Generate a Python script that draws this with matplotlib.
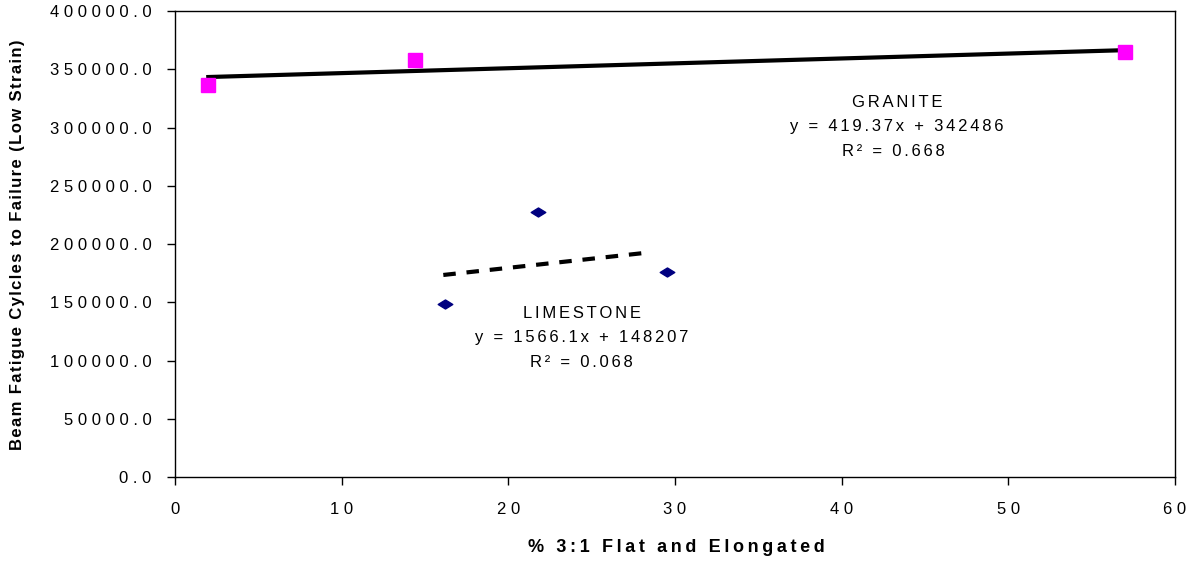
import matplotlib
matplotlib.use("Agg")
import matplotlib.pyplot as plt
import numpy as np
from matplotlib.path import Path

plt.rcParams['font.family'] = ['Liberation Sans', 'DejaVu Sans']

# Data
granite_x = [2.0, 14.4, 57.0]
granite_y = [336500, 358000, 364800]
limestone_x = [16.2, 21.8, 29.5]
limestone_y = [148500, 227500, 176000]

granite_slope, granite_int = 419.37, 342486
lime_slope, lime_int = 1566.1, 148207
granite_fit_x = [2.0, 57.0]
lime_fit_x = [16.1, 28.5]

x_ticks = [0, 10, 20, 30, 40, 50, 60]
y_ticks = [0, 50000, 100000, 150000, 200000, 250000, 300000, 350000, 400000]

x_label = "% 3:1 Flat and Elongated"
y_label = "Beam Fatigue Cylcles to Failure (Low Strain)"


def spaced(s, sp):
    return sp.join(list(s))


fig = plt.figure(figsize=(11.95, 5.61), dpi=100)
ax = fig.add_axes([0.1464, 0.1497, 0.8369, 0.8307])

diamond = Path([(-1, 0), (0, 0.62), (1, 0), (0, -0.62), (-1, 0)],
               [Path.MOVETO, Path.LINETO, Path.LINETO, Path.LINETO, Path.CLOSEPOLY])

ax.plot(granite_x, granite_y, linestyle='none', marker='s', markersize=10.5,
        color='#ff00ff', markeredgecolor='#ff00ff', zorder=3)
ax.plot(limestone_x, limestone_y, linestyle='none', marker=diamond, markersize=10.5,
        color='#000080', markeredgecolor='#000080', zorder=3)

gx = np.array(granite_fit_x)
ax.plot(gx, granite_slope * gx + granite_int, color='black', linewidth=3, zorder=2)
lx = np.array(lime_fit_x)
ax.plot(lx, lime_slope * lx + lime_int, color='black', linewidth=3,
        linestyle=(0, (3, 2.6)), zorder=2)

ax.set_xlim(0, 60)
ax.set_ylim(0, 400000)
ax.set_xticks(x_ticks)
ax.set_yticks(y_ticks)
ax.set_xticklabels([spaced(str(v), ' ') for v in x_ticks])
ax.set_yticklabels([spaced(f"{v:.1f}", ' ') for v in y_ticks])
ax.tick_params(axis='both', labelsize=12, direction='out', length=6, width=1)
ax.tick_params(axis='x', pad=12)
ax.tick_params(axis='y', pad=11)
for s in ax.spines.values():
    s.set_linewidth(1)

fig.text(676 / 1195, 1 - 547 / 561, spaced(x_label, '\u2009'), fontsize=13,
         fontweight='bold', ha='center', va='center')
fig.text(18 / 1195, 1 - 245 / 561, spaced(y_label, '\u200a'), fontsize=12,
         fontweight='bold', ha='center', va='center', rotation=90)

sp = '\u2006'
tkw = dict(va='center', fontsize=12, transform=ax.transData)
ax.text(43.35, 321500, spaced("GRANITE", sp), ha='center', **tkw)
ax.text(43.3, 301000, spaced("y = 419.37x + 342486", sp), ha='center', **tkw)
ax.text(43.1, 279500, spaced("R² = 0.668", sp), ha='center', **tkw)

ax.text(24.4, 140000, spaced("LIMESTONE", sp), ha='center', **tkw)
ax.text(24.4, 120000, spaced("y = 1566.1x + 148207", sp), ha='center', **tkw)
ax.text(24.4, 98500, spaced("R² = 0.068", sp), ha='center', **tkw)

fig.savefig("out.png", dpi=100)
